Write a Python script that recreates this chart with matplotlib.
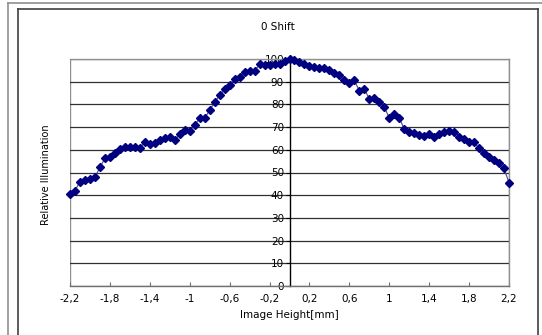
import numpy as np
import matplotlib
matplotlib.use("Agg")
import matplotlib.pyplot as plt
from matplotlib.lines import Line2D

# image height [mm], sampled every 0.05 mm
height_mm = np.round(np.arange(-2.2, 2.2001, 0.05), 2)

# relative illumination [%]
illum_left = [40.4, 42.0, 46.0, 46.7, 47.0, 47.9, 52.3, 56.2, 57.0, 58.7,
              60.2, 61.1, 61.1, 61.1, 60.6, 63.6, 62.6, 63.1, 64.3, 65.0,
              65.8, 64.3, 66.8, 68.7, 68.4, 70.9, 73.9, 73.9, 77.5, 80.9,
              84.1, 86.6, 88.5, 91.0, 92.2, 94.4, 94.8, 94.8, 97.6, 97.4,
              97.4, 97.7, 97.9, 99.0]
illum_right = [100.0, 99.7, 98.8, 97.7, 96.9, 96.3, 95.9, 96.0, 95.0, 93.7,
               93.0, 90.7, 89.3, 90.6, 85.9, 86.8, 82.4, 82.7, 80.9, 79.0,
               73.9, 75.6, 74.1, 69.2, 68.0, 67.3, 66.5, 66.2, 66.8, 65.6,
               67.1, 67.7, 68.3, 68.0, 65.8, 64.8, 63.6, 63.3, 60.7, 58.5,
               57.0, 55.5, 54.0, 51.8, 45.5]
illum = np.array(illum_left + illum_right)

xticks = np.round(np.arange(-2.2, 2.2001, 0.4), 1)
xtick_labels = ["-2,2", "-1,8", "-1,4", "-1", "-0,6", "-0,2",
                "0,2", "0,6", "1", "1,4", "1,8", "2,2"]
yticks = np.arange(0, 101, 10)

W, H = 542, 335
fig = plt.figure(figsize=(W / 100, H / 100), dpi=100)
fig.patch.set_facecolor("white")

# outer chart frames (pixel coords -> figure fraction)
def fx(px):
    return px / W

def fy(py):
    return 1 - py / H

fig.add_artist(Line2D([fx(8), fx(8)], [fy(3), fy(H + 5)], color="#909090", lw=1.2))
fig.add_artist(Line2D([fx(8), fx(W + 5)], [fy(3), fy(3)], color="#909090", lw=1.2))
fig.add_artist(Line2D([fx(18), fx(18)], [fy(9), fy(H + 5)], color="#404040", lw=1.2))
fig.add_artist(Line2D([fx(18), fx(538)], [fy(9), fy(9)], color="#404040", lw=1.2))
fig.add_artist(Line2D([fx(538), fx(538)], [fy(9), fy(H + 5)], color="#404040", lw=1.2))

ax = fig.add_axes([fx(70), fy(286), (509 - 70) / W, (286 - 59) / H])
ax.set_xlim(-2.2, 2.2)
ax.set_ylim(0, 100)

for y in yticks[1:-1]:
    ax.axhline(y, color="#303030", lw=0.9, zorder=1)

ax.plot(height_mm, illum, color="#4a4a80", lw=0.8, zorder=3)
ax.plot(height_mm, illum, linestyle="none", marker="D", markersize=3.6,
        color="#000080", markeredgecolor="#000080", zorder=4, clip_on=False)

# y axis sits at x = 0
ax.spines["left"].set_position(("data", 0))
ax.spines["left"].set_color("black")
ax.spines["left"].set_linewidth(1.0)
for s in ("top", "right"):
    ax.spines[s].set_color("#909090")
    ax.spines[s].set_linewidth(1.0)
ax.spines["bottom"].set_color("#707070")
ax.spines["bottom"].set_linewidth(1.0)
ax.add_patch(plt.Rectangle((0, 0), 1, 1, transform=ax.transAxes, fill=False,
                           edgecolor="#909090", lw=1.0, zorder=0))

ax.set_xticks(xticks)
ax.set_xticklabels(xtick_labels)
ax.set_yticks(yticks)
ax.tick_params(axis="x", direction="in", length=3, width=0.8, color="#707070",
               labelsize=7.5, pad=6)
ax.tick_params(axis="y", direction="out", length=3, width=0.8, color="black",
               labelsize=7.5, pad=1)

fig.text(fx(278), fy(27), "0 Shift", ha="center", va="center", fontsize=7.5)
fig.text(fx(289), fy(315), "Image Height[mm]", ha="center", va="center", fontsize=7.5)
fig.text(fx(46), fy(175), "Relative Illumination", ha="center", va="center",
         rotation=90, fontsize=7)

fig.savefig("out.png", dpi=100)
